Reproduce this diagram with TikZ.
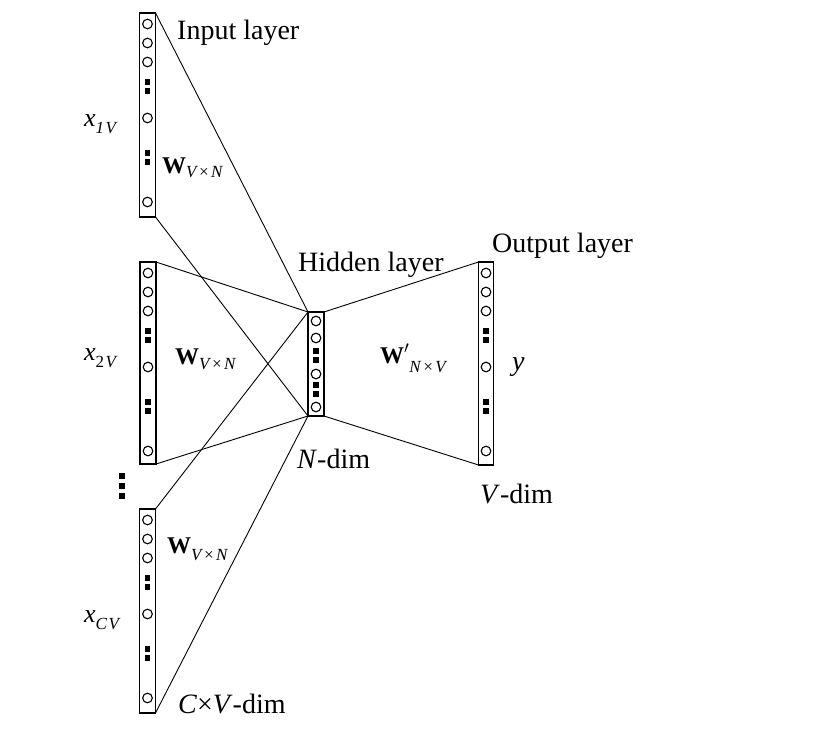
\documentclass[tikz,border=0pt]{standalone}
\usepackage{fontspec}
\setmainfont{Liberation Serif}
\newcommand\mysub[2]{\raisebox{-#1pt}{\fontsize{17}{20}\selectfont\itshape #2}}
\newcommand\wbold{{\fontsize{24}{27}\selectfont\bfseries W}}
\newcommand\xit{{\fontsize{26}{29}\selectfont\itshape x}}
\begin{document}
\begin{tikzpicture}[x=1pt,y=-1pt,
  layerbox/.style={draw, line width=1.3pt, minimum width=16pt, inner sep=0pt, outer sep=0pt},
  conn/.style={line width=0.9pt},
  unitline/.style={line width=1.1pt},
  lbl/.style={anchor=base west, inner sep=0pt, font=\fontsize{28}{32}\selectfont},
  vcol/.pic={
    \foreach \d in {11,30,49,105,189} \draw[unitline] (0,\d) circle (4.8);
    \foreach \d in {69,78,140,149} \fill (-2.6,\d-2.6) rectangle (2.6,\d+2.6);
  },
  hcol/.pic={
    \foreach \d in {9,26,62,95} \draw[unitline] (0,\d) circle (4.8);
    \foreach \d in {39,48,73,82} \fill (-2.6,\d-2.6) rectangle (2.6,\d+2.6);
  }
]
\useasboundingbox (0,0) rectangle (816,738);
\fill[white] (0,0) rectangle (816,738);

% layer boxes
\node[layerbox, minimum height=204pt] (in1) at (147.5,115) {};
\node[layerbox, minimum height=202pt] (in2) at (148,363) {};
\node[layerbox, minimum height=204pt] (in3) at (147.5,611) {};
\node[layerbox, minimum height=104pt] (hid) at (316,364) {};
\node[layerbox, minimum height=203pt, minimum width=15pt] (out) at (486,363.5) {};

% units
\pic at (in1.north) {vcol};
\pic at (in2.north) {vcol};
\pic at (in3.north) {vcol};
\pic at (out.north) {vcol};
\pic at (hid.north) {hcol};

% vertical ellipsis between input groups
\foreach \d in {476,486,496} \fill (122-2.6,\d-2.6) rectangle (122+2.6,\d+2.6);

% connectors
\draw[conn] (in1.north east) -- (hid.north west);
\draw[conn] (in1.south east) -- (hid.south west);
\draw[conn] (in2.north east) -- (hid.north west);
\draw[conn] (in2.south east) -- (hid.south west);
\draw[conn] (in3.north east) -- (hid.north west);
\draw[conn] (in3.south east) -- (hid.south west);
\draw[conn] (hid.north east) -- (out.north west);
\draw[conn] (hid.south east) -- (out.south west);

% labels
\node[lbl] (tin) at (177,40) {Input layer};
\node[lbl] (thid) at (298,271) {Hidden layer};
\node[lbl] (tout) at (492,252) {Output layer};
\node[lbl] (tn) at (297,468) {\textit{N}-dim};
\node[lbl] (tv) at (480,503) {\textit{V}-dim};
\node[lbl] (tcv) at (178,713) {\textit{C}×\textit{V}-dim};
\node[lbl] (ty) at (512,370) {\textit{y}};

\node[lbl] (x1) at (84,127) {\xit\mysub{7}{1\kern1.5pt V}};
\node[lbl] (x2) at (84,360) {\xit\raisebox{-7pt}{\fontsize{17}{20}\selectfont 2\kern1.5pt\itshape V}};
\node[lbl] (xc) at (84,622) {\xit\mysub{7}{C\kern1.5pt V}};

\node[lbl] (w1) at (162,174) {\wbold\mysub{4}{V\kern1.5pt×\kern1.5pt N}};
\node[lbl] (w2) at (175,364) {\wbold\mysub{5}{V\kern1.5pt×\kern1.5pt N}};
\node[lbl] (w3) at (167,553) {\wbold\mysub{7}{V\kern1.5pt×\kern1.5pt N}};
\node[lbl] (wo) at (380,363) {\wbold{\fontsize{24}{27}\selectfont$'$}\mysub{9}{N\kern1.5pt×\kern1.5pt V}};
\end{tikzpicture}
\end{document}
